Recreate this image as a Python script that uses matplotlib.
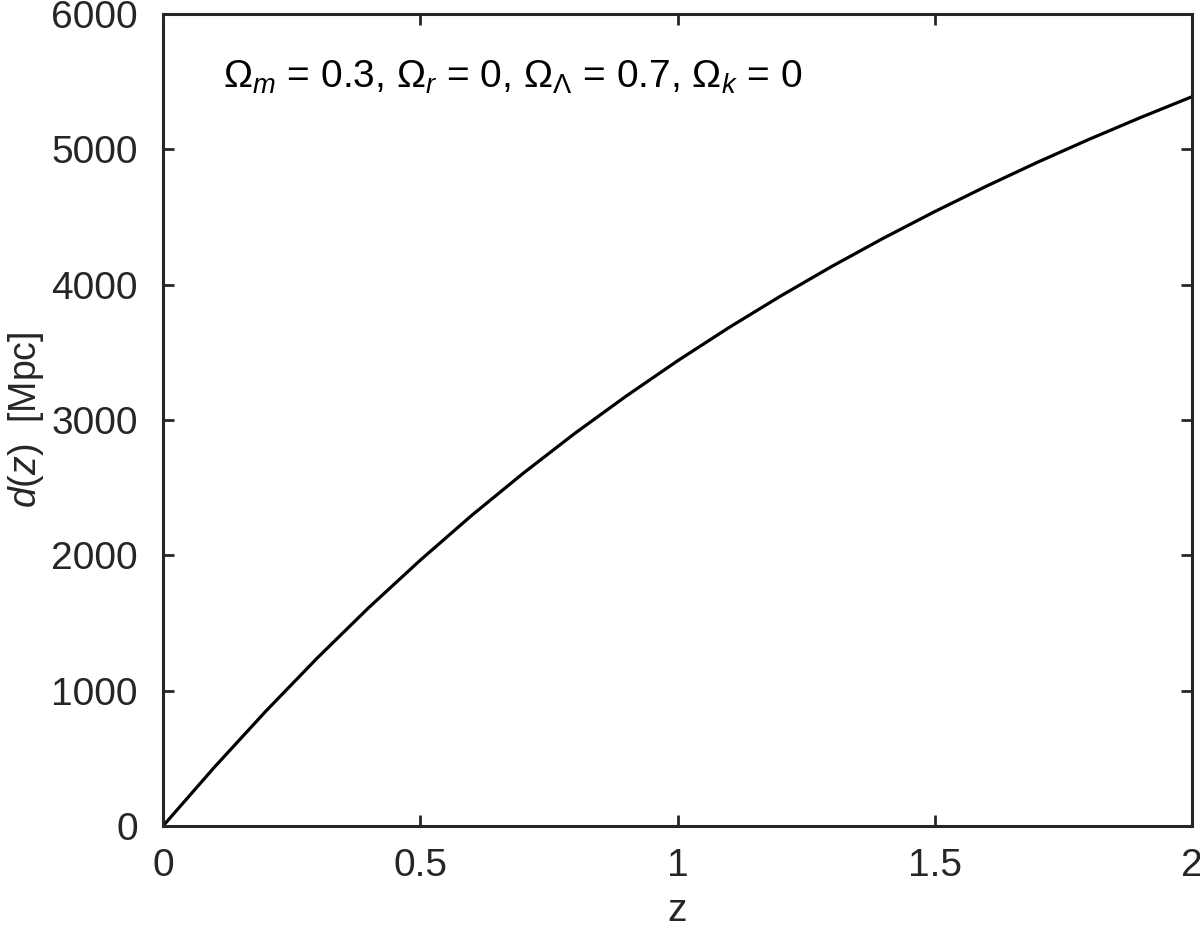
import matplotlib
matplotlib.use("Agg")
import matplotlib.pyplot as plt

plt.rcParams['font.family'] = ['Liberation Sans', 'DejaVu Sans']
plt.rcParams['mathtext.fontset'] = 'custom'
plt.rcParams['mathtext.rm'] = 'Liberation Sans'
plt.rcParams['mathtext.it'] = 'Liberation Sans:italic'
plt.rcParams['mathtext.bf'] = 'Liberation Sans:bold'

# values
z = [0.0, 0.1, 0.2, 0.3, 0.4, 0.5, 0.6, 0.7, 0.8, 0.9, 1.0,
     1.1, 1.2, 1.3, 1.4, 1.5, 1.6, 1.7, 1.8, 1.9, 2.0]
d = [0, 435, 849, 1242, 1614, 1964, 2295, 2606, 2900, 3176, 3437,
     3683, 3915, 4135, 4343, 4540, 4727, 4905, 5074, 5235, 5389]
xticks = [0, 0.5, 1, 1.5, 2]
xticklabels = ['0', '0.5', '1', '1.5', '2']
yticks = [0, 1000, 2000, 3000, 4000, 5000, 6000]

axcol = '#262626'
fig = plt.figure(figsize=(12, 9.32), dpi=100)
ax = fig.add_axes([163/1200, 1 - 826/932, (1192-163)/1200, (826-14)/932])
ax.plot(z, d, color='black', lw=2.3)
ax.set_xlim(0, 2)
ax.set_ylim(0, 6000)
ax.set_xticks(xticks)
ax.set_xticklabels(xticklabels)
ax.set_yticks(yticks)
ax.tick_params(direction='in', length=8, width=2, colors=axcol,
               labelsize=28, top=True, right=True)
ax.tick_params(axis='x', pad=16)
ax.tick_params(axis='y', pad=18)
for s in ax.spines.values():
    s.set_linewidth(2.2)
    s.set_color(axcol)
ax.set_xlabel('z', fontsize=28, color=axcol, labelpad=6)
ax.set_ylabel(r'$d(z)$  [Mpc]', fontsize=27, color=axcol, labelpad=4)
ax.text(0.058, 0.922,
        r'$\Omega_m$ = 0.3, $\Omega_r$ = 0, $\Omega_\Lambda$ = 0.7, $\Omega_k$ = 0',
        transform=ax.transAxes, fontsize=28, color='black', va='center', ha='left')
fig.savefig('out.png', dpi=100)
